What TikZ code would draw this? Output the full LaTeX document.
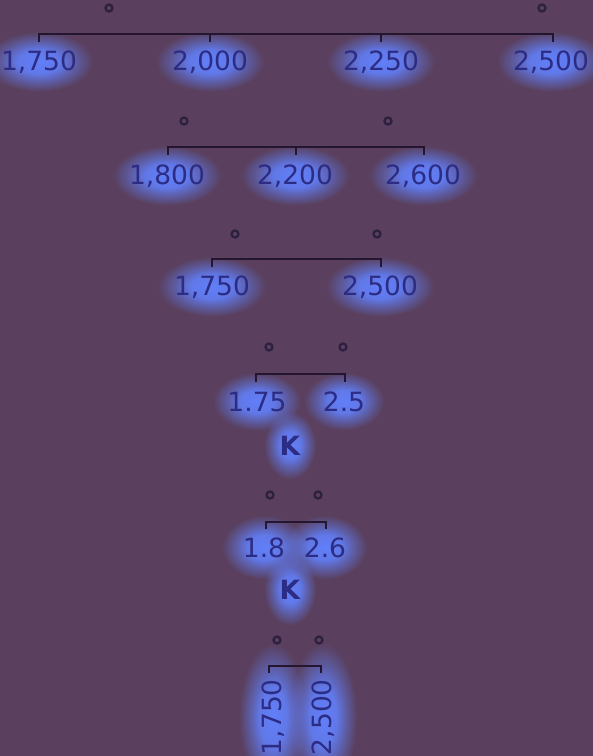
\documentclass[tikz,border=0pt]{standalone}
\usepackage{fontspec}
\setmainfont{DejaVu Sans}
\usepackage{tikz}
\usetikzlibrary{fadings,backgrounds}
\definecolor{gBack}{RGB}{90,64,94}
\definecolor{gGlow}{RGB}{98,128,250}
\definecolor{gInk}{RGB}{44,44,132}
\definecolor{gRule}{RGB}{36,22,46}
\definecolor{gDot}{RGB}{46,32,64}
\pgfdeclareradialshading{haloshade}{\pgfpointorigin}{color(0bp)=(white);color(10bp)=(white!88!black);color(17bp)=(white!45!black);color(25bp)=(black);color(50bp)=(black)}
\pgfdeclarefading{halofade}{\pgfuseshading{haloshade}}
\tikzset{
halo/.style={fill=gGlow,path fading=halofade},
ring/.style={circle,draw=gDot,line width=2.3pt,minimum size=7pt,inner sep=0pt},
num/.style={font=\fontsize{26.5}{26.5}\selectfont,text=gInk,inner sep=0pt,anchor=base},
kay/.style={font=\fontsize{26.5}{26.5}\selectfont\bfseries,text=gInk,inner sep=0pt,anchor=base},
bracket/.style={draw=gRule,line width=1.8pt}
}

\begin{document}
\begin{tikzpicture}[x=1pt,y=-1pt]
\useasboundingbox (0,0) rectangle (593,756);
% row 1
\node[ring] (d1a) at (109,8) {};
\node[ring] (d1b) at (542,8) {};
\coordinate (t1a) at (39,34); \coordinate (t1b) at (210,34);
\coordinate (t1c) at (381,34); \coordinate (t1d) at (553,34);
\draw[bracket] (t1a) ++(0,8) -- (t1a) -- (t1d) -- ++(0,8);
\draw[bracket] (t1b) -- ++(0,8); \draw[bracket] (t1c) -- ++(0,8);
\node[num] (l1a) at (39,70) {1,750};
\node[num] (l1b) at (210,70) {2,000};
\node[num] (l1c) at (381,70) {2,250};
\node[num] (l1d) at (551,70) {2,500};
% row 2
\node[ring] (d2a) at (184,121) {};
\node[ring] (d2b) at (388,121) {};
\coordinate (t2a) at (168,147); \coordinate (t2b) at (296,147); \coordinate (t2c) at (424,147);
\draw[bracket] (t2a) ++(0,8) -- (t2a) -- (t2c) -- ++(0,8);
\draw[bracket] (t2b) -- ++(0,8);
\node[num] (l2a) at (167,184) {1,800};
\node[num] (l2b) at (295,184) {2,200};
\node[num] (l2c) at (423,184) {2,600};
% row 3
\node[ring] (d3a) at (235,234) {};
\node[ring] (d3b) at (377,234) {};
\coordinate (t3a) at (212,259); \coordinate (t3b) at (381,259);
\draw[bracket] (t3a) ++(0,8) -- (t3a) -- (t3b) -- ++(0,8);
\node[num] (l3a) at (212,295) {1,750};
\node[num] (l3b) at (380,295) {2,500};
% row 4
\node[ring] (d4a) at (269,347) {};
\node[ring] (d4b) at (343,347) {};
\coordinate (t4a) at (256,374); \coordinate (t4b) at (345,374);
\draw[bracket] (t4a) ++(0,8) -- (t4a) -- (t4b) -- ++(0,8);
\node[num] (l4a) at (257,411) {1.75};
\node[num] (l4b) at (344,411) {2.5};
\node[kay] (k4) at (290,455) {K};
% row 5
\node[ring] (d5a) at (270,495) {};
\node[ring] (d5b) at (318,495) {};
\coordinate (t5a) at (266,522); \coordinate (t5b) at (326,522);
\draw[bracket] (t5a) ++(0,7) -- (t5a) -- (t5b) -- ++(0,7);
\node[num] (l5a) at (264,557) {1.8};
\node[num] (l5b) at (325,557) {2.6};
\node[kay] (k5) at (290,599) {K};
% row 6
\node[ring] (d6a) at (277,640) {};
\node[ring] (d6b) at (319,640) {};
\coordinate (t6a) at (269,666); \coordinate (t6b) at (321,666);
\draw[bracket] (t6a) ++(0,7) -- (t6a) -- (t6b) -- ++(0,7);
\node[num,rotate=90,anchor=east] (l6a) at (273,679) {1,750};
\node[num,rotate=90,anchor=east] (l6b) at (323,679) {2,500};
% glow behind the labels
\begin{scope}[on background layer]
\fill[gBack] (0,0) rectangle (593,756);
\foreach \n in {l1a,l1b,l1c,l1d,l2a,l2b,l2c,l3a,l3b}
  \fill[halo] (\n) ellipse (54 and 30);
\fill[halo] (l4a) ellipse (44 and 29);
\fill[halo] (l4b) ellipse (40 and 29);
\fill[halo] (k4) ellipse (26 and 34);
\fill[halo] (l5a) ellipse (42 and 32);
\fill[halo] (l5b) ellipse (42 and 32);
\fill[halo] (k5) ellipse (26 and 36);
\fill[halo] (l6a) ellipse (34 and 74);
\fill[halo] (l6b) ellipse (34 and 74);
\end{scope}
\end{tikzpicture}
\end{document}
